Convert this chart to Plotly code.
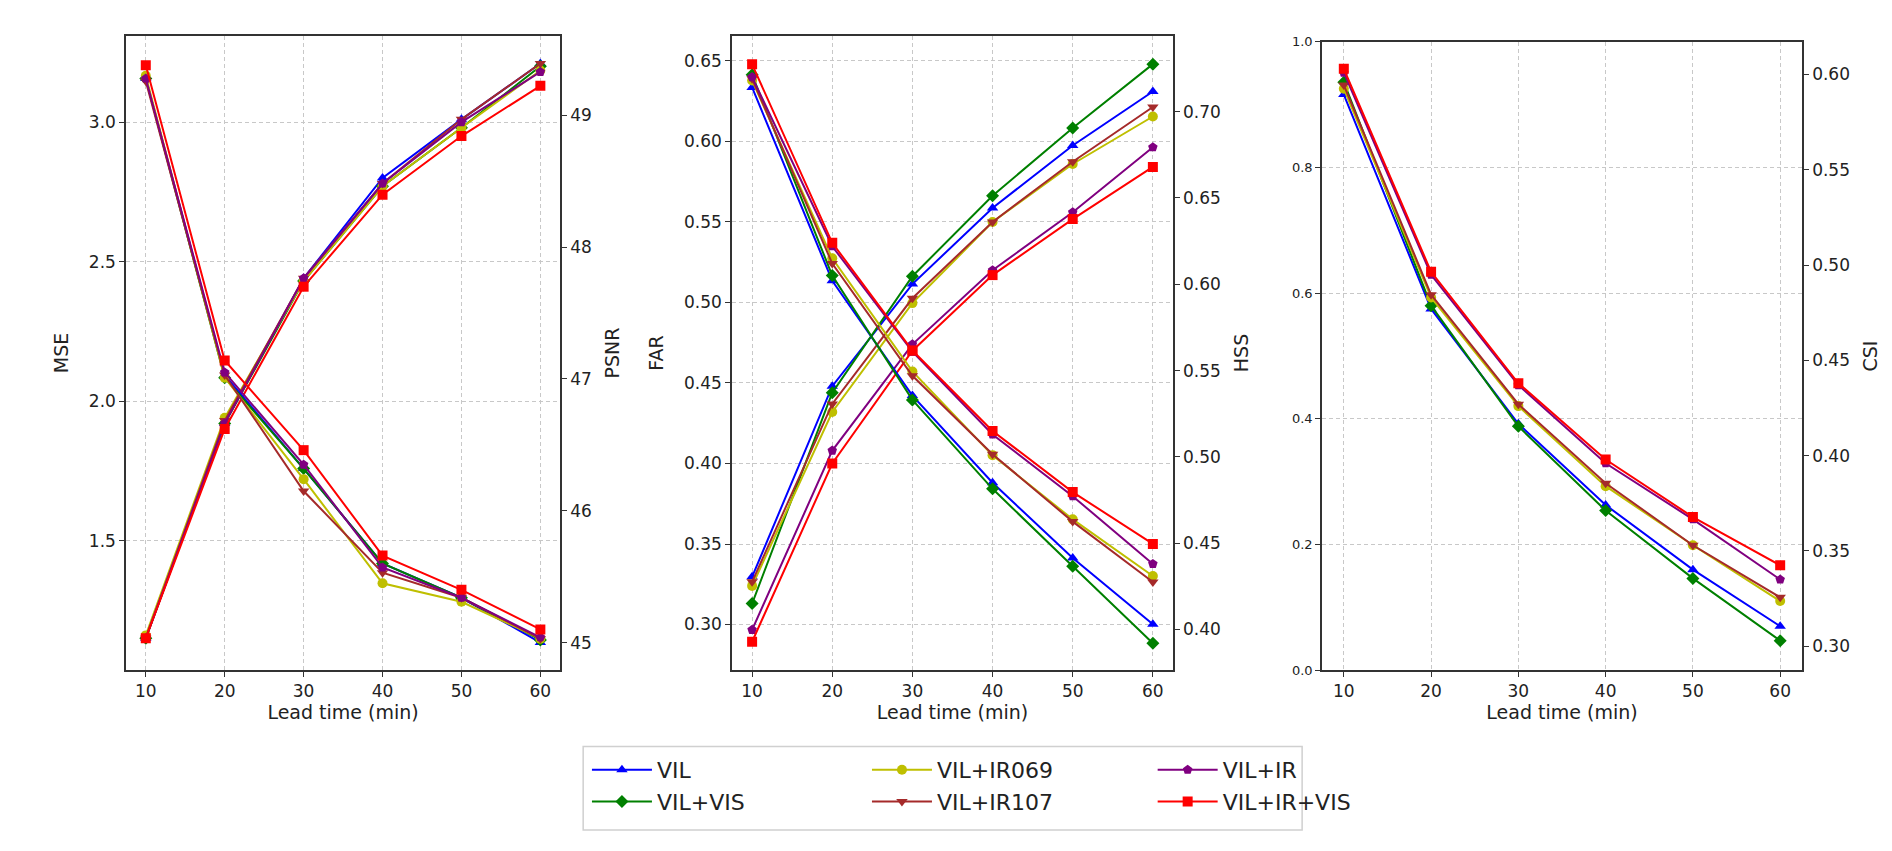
import plotly.graph_objects as go

lead = [10, 20, 30, 40, 50, 60]
names = ["VIL", "VIL+VIS", "VIL+IR069", "VIL+IR107", "VIL+IR", "VIL+IR+VIS"]

mse = {
    "VIL":        [1.15, 1.92, 2.44, 2.80, 3.01, 3.21],
    "VIL+VIS":    [1.15, 1.92, 2.43, 2.77, 2.98, 3.20],
    "VIL+IR069":  [1.16, 1.94, 2.43, 2.77, 2.98, 3.185],
    "VIL+IR107":  [1.15, 1.93, 2.44, 2.78, 3.01, 3.21],
    "VIL+IR":     [1.15, 1.92, 2.44, 2.78, 3.00, 3.18],
    "VIL+IR+VIS": [1.15, 1.90, 2.41, 2.74, 2.95, 3.13],
}
psnr = {
    "VIL":        [49.28, 47.03, 46.32, 45.60, 45.34, 45.00],
    "VIL+VIS":    [49.28, 47.01, 46.32, 45.60, 45.34, 45.02],
    "VIL+IR069":  [49.30, 47.01, 46.24, 45.45, 45.31, 45.03],
    "VIL+IR107":  [49.26, 47.03, 46.15, 45.53, 45.34, 45.03],
    "VIL+IR":     [49.28, 47.05, 46.35, 45.57, 45.34, 45.04],
    "VIL+IR+VIS": [49.38, 47.14, 46.46, 45.66, 45.40, 45.10],
}
far = {
    "VIL":        [0.3296, 0.448, 0.5114, 0.5587, 0.5975, 0.631],
    "VIL+VIS":    [0.313, 0.444, 0.5163, 0.5663, 0.6084, 0.648],
    "VIL+IR069":  [0.324, 0.432, 0.4996, 0.550, 0.586, 0.6155],
    "VIL+IR107":  [0.3265, 0.437, 0.5026, 0.550, 0.5874, 0.6214],
    "VIL+IR":     [0.2967, 0.408, 0.474, 0.520, 0.556, 0.5964],
    "VIL+IR+VIS": [0.2893, 0.400, 0.470, 0.517, 0.5518, 0.5842],
}
hss = {
    "VIL":        [0.714, 0.602, 0.5355, 0.485, 0.4414, 0.403],
    "VIL+VIS":    [0.7213, 0.605, 0.533, 0.4815, 0.4366, 0.392],
    "VIL+IR069":  [0.718, 0.615, 0.5495, 0.501, 0.4638, 0.431],
    "VIL+IR107":  [0.719, 0.612, 0.547, 0.5015, 0.4625, 0.4275],
    "VIL+IR":     [0.720, 0.622, 0.561, 0.513, 0.4772, 0.438],
    "VIL+IR+VIS": [0.7274, 0.624, 0.5616, 0.515, 0.4796, 0.4496],
}
csi = {
    "VIL":        [0.5895, 0.477, 0.4167, 0.3741, 0.3402, 0.3105],
    "VIL+VIS":    [0.596, 0.4787, 0.4154, 0.3712, 0.3356, 0.3029],
    "VIL+IR069":  [0.5925, 0.483, 0.426, 0.384, 0.353, 0.3237],
    "VIL+IR107":  [0.5945, 0.4845, 0.427, 0.3855, 0.353, 0.3257],
    "VIL+IR":     [0.601, 0.495, 0.437, 0.396, 0.3666, 0.335],
    "VIL+IR+VIS": [0.603, 0.4965, 0.438, 0.398, 0.3678, 0.3425],
}

colors = {"VIL": "blue", "VIL+VIS": "green", "VIL+IR069": "#bfbf00",
          "VIL+IR107": "#a52a2a", "VIL+IR": "purple", "VIL+IR+VIS": "red"}
symbols = {"VIL": "triangle-up", "VIL+VIS": "diamond", "VIL+IR069": "circle",
           "VIL+IR107": "triangle-down", "VIL+IR": "pentagon", "VIL+IR+VIS": "square"}
legend_of = {"VIL": "legend", "VIL+VIS": "legend", "VIL+IR069": "legend2",
             "VIL+IR107": "legend2", "VIL+IR": "legend3", "VIL+IR+VIS": "legend3"}

fig = go.Figure()


def add(series, xa, ya, show):
    for n in names:
        fig.add_trace(go.Scatter(
            x=lead, y=series[n], xaxis=xa, yaxis=ya, name=n, mode="lines+markers",
            line=dict(color=colors[n], width=2),
            marker=dict(symbol=symbols[n], size=10, color=colors[n]),
            showlegend=show, legend=legend_of[n]))


add(mse, "x", "y", True)
add(psnr, "x", "y2", False)
add(far, "x2", "y3", False)
add(hss, "x2", "y4", False)
add(csi, "x3", "y6", False)
fig.add_trace(go.Scatter(x=[], y=[], xaxis="x3", yaxis="y5", showlegend=False))

font = "DejaVu Sans"
tick = dict(size=17, color="#222", family=font)
ttl = dict(size=19, color="#222", family=font)
grid = dict(showgrid=True, gridcolor="#c8c8c8", griddash="4px,3px", gridwidth=1)
line = dict(showline=True, linecolor="#333", linewidth=1.5, ticks="outside",
            ticklen=5, tickcolor="#333", zeroline=False)

doms = [[0.0624, 0.2918], [0.3827, 0.6157], [0.6945, 0.9482]]
ydom = [0.2162, 0.9753]

layout = dict(width=1892, height=851, paper_bgcolor="white", plot_bgcolor="white",
              margin=dict(l=0, r=0, t=0, b=0), font=dict(family=font, color="#222"))
for i, d in enumerate(doms):
    k = "" if i == 0 else str(i + 1)
    layout["xaxis" + k] = dict(domain=d, range=[7.5, 62.5], tickvals=lead, mirror=True,
                               anchor="y" if i == 0 else "y" + str(2 * i + 1),
                               title=dict(text="Lead time (min)", font=ttl, standoff=4),
                               tickfont=tick, **grid, **line)

layout["yaxis"] = dict(domain=ydom, range=[1.035, 3.31], tickvals=[1.5, 2.0, 2.5, 3.0],
                       ticktext=["1.5", "2.0", "2.5", "3.0"], anchor="x",
                       title=dict(text="MSE", font=ttl), tickfont=tick, **grid, **line)
layout["yaxis2"] = dict(domain=ydom, range=[44.79, 49.605], tickvals=[45, 46, 47, 48, 49],
                        overlaying="y", side="right", anchor="x", showgrid=False,
                        title=dict(text="PSNR", font=ttl), tickfont=tick, **line)
layout["yaxis3"] = dict(domain=ydom, range=[0.2716, 0.6657], dtick=0.05, tickformat=".2f",
                        anchor="x2", title=dict(text="FAR", font=ttl),
                        tickfont=tick, **grid, **line)
layout["yaxis4"] = dict(domain=ydom, range=[0.3764, 0.744], dtick=0.05, tickformat=".2f",
                        overlaying="y3", side="right", anchor="x2", showgrid=False,
                        title=dict(text="HSS", font=ttl), tickfont=tick, **line)
layout["yaxis5"] = dict(domain=[ydom[0], 0.968], range=[0, 1], dtick=0.2, tickformat=".1f",
                        anchor="x3", tickfont=dict(size=13, color="#222", family=font),
                        **grid, **line)
layout["yaxis6"] = dict(domain=[ydom[0], 0.968], range=[0.2874, 0.6172], dtick=0.05,
                        tickformat=".2f", overlaying="y5", side="right", anchor="x3",
                        showgrid=False, title=dict(text="CSI", font=ttl),
                        tickfont=tick, **line)

leg = dict(orientation="v", yanchor="top", y=0.122, xanchor="left", bgcolor="rgba(0,0,0,0)",
           font=dict(size=22, color="#222", family=font), itemwidth=60, tracegroupgap=4)
layout["legend"] = dict(leg, x=0.306)
layout["legend2"] = dict(leg, x=0.454)
layout["legend3"] = dict(leg, x=0.605)
fig.update_layout(**layout)
fig.add_shape(type="rect", xref="paper", yref="paper", x0=0.304, x1=0.684, y0=0.025, y1=0.125,
              line=dict(color="#d0d0d0", width=1.5))

fig.write_html("out.html")
